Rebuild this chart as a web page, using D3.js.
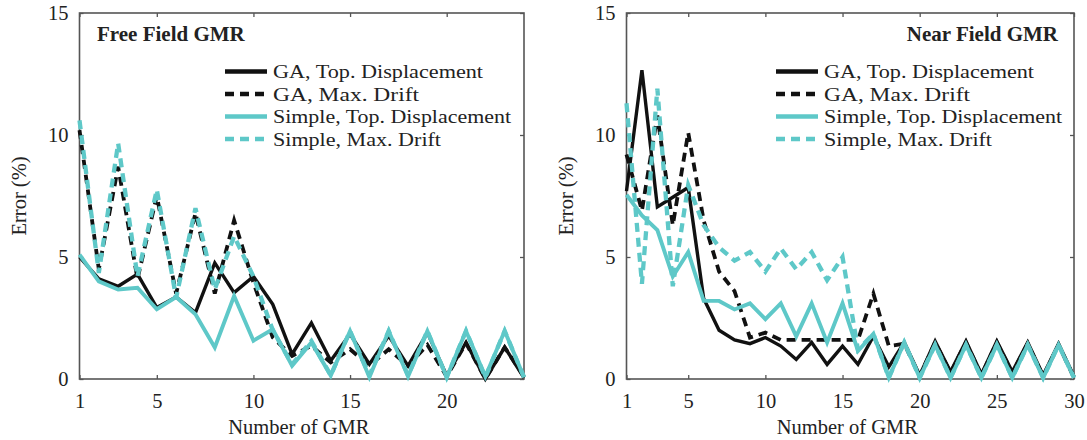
<!DOCTYPE html>
<html>
<head>
<meta charset="utf-8">
<script src="https://cdn.jsdelivr.net/npm/d3@7"></script>
<style>
  html, body { margin: 0; padding: 0; background: #fff; }
  svg { display: block; }
  text { font-family: "Liberation Serif", "Times New Roman", serif; fill: #222; }
</style>
</head>
<body>
<svg id="chart" width="1087" height="440"></svg>
<script>
// Ground-motion-record counts on the x axis
const gmrFree = [1,2,3,4,5,6,7,8,9,10,11,12,13,14,15,16,17,18,19,20,21,22,23,24];
const gmrNear = [1,2,3,4,5,6,7,8,9,10,11,12,13,14,15,16,17,18,19,20,21,22,23,24,25,26,27,28,29,30];

// Free-field errors (%)
const freeGaTop      = [5.0,4.1,3.8,4.3,2.93,3.36,2.72,4.76,3.54,4.2,3.06,1.02,2.3,0.75,1.84,0.61,1.77,0.54,1.9,0.14,1.5,0.0,1.3,0.05];
const freeGaDrift    = [10.2,4.5,8.7,4.1,7.5,3.5,6.8,3.5,6.5,3.95,1.7,0.95,1.36,0.68,1.22,0.54,1.22,0.54,1.4,0.1,1.47,0.0,1.3,0.1];
const freeSimpleTop  = [5.1,4.0,3.67,3.74,2.86,3.36,2.65,1.29,3.4,1.57,2.04,0.54,1.5,0.14,1.97,0.07,1.97,0.1,1.97,0.07,1.97,0.1,1.97,0.07];
const freeSimpleDrift= [10.6,4.35,9.66,4.2,7.76,3.33,7.0,3.67,5.85,4.2,2.0,0.6,1.56,0.15,1.97,0.15,1.97,0.15,1.97,0.07,1.97,0.07,1.97,0.07];

// Near-field errors (%)
const nearGaTop      = [7.7,12.66,7.05,7.45,7.85,3.3,2.0,1.6,1.45,1.7,1.35,0.8,1.5,0.6,1.35,0.6,1.75,0.5,1.5,0.15,1.55,0.3,1.55,0.2,1.55,0.3,1.5,0.15,1.45,0.1];
const nearGaDrift    = [9.2,6.9,10.8,6.3,10.1,6.5,4.4,3.6,1.7,1.9,1.6,1.6,1.6,1.6,1.6,1.6,3.5,1.35,1.45,0.1,1.5,0.25,1.5,0.15,1.5,0.25,1.45,0.1,1.4,0.05];
const nearSimpleTop  = [7.55,6.7,6.1,4.2,5.2,3.2,3.2,2.85,3.1,2.45,3.1,1.75,3.1,1.5,3.1,1.15,1.85,0.05,1.5,0.05,1.4,0.05,1.4,0.05,1.4,0.05,1.4,0.05,1.4,0.05];
const nearSimpleDrift= [11.3,3.9,11.9,3.8,7.95,6.3,5.4,4.85,5.2,4.4,5.35,4.5,5.2,4.05,5.0,1.2,1.85,0.05,1.5,0.05,1.4,0.05,1.4,0.05,1.4,0.05,1.4,0.05,1.4,0.05];

// Axis ticks
const xTicksFree = [1,5,10,15,20];
const xTicksNear = [1,5,10,15,20,25,30];
const yTicks = [0,5,10,15];

// Legend entries
const seriesNames = ["GA, Top. Displacement","GA, Max. Drift","Simple, Top. Displacement","Simple, Max. Drift"];

const BLACK = "#111";
const TEAL = "#5ec8c8";
const styles = [
  {color: BLACK, width: 3.4, dash: null},
  {color: BLACK, width: 3.8, dash: "9,6"},
  {color: TEAL,  width: 3.9, dash: null},
  {color: TEAL,  width: 4.3, dash: "9,6"}
];

const svg = d3.select("#chart");

function drawPanel(p) {
  const x = d3.scaleLinear().domain([p.xs[0], p.xs[p.xs.length - 1]]).range([p.left, p.right]);
  const y = d3.scaleLinear().domain([0, 15]).range([p.bottom, p.top]);
  const g = svg.append("g");

  // axes with inward ticks
  const bottom = g.append("g").attr("transform", `translate(0,${p.bottom})`)
    .call(d3.axisBottom(x).tickValues(p.xTicks).tickSizeInner(-4).tickSizeOuter(0).tickPadding(14).tickFormat(d3.format("d")));
  const left = g.append("g").attr("transform", `translate(${p.left},0)`)
    .call(d3.axisLeft(y).tickValues(yTicks).tickSizeInner(-4).tickSizeOuter(0).tickPadding(11).tickFormat(d3.format("d")));
  const top = g.append("g").attr("transform", `translate(0,${p.top})`)
    .call(d3.axisTop(x).tickValues(p.xTicks).tickSizeInner(-4).tickSizeOuter(0).tickFormat(""));
  const right = g.append("g").attr("transform", `translate(${p.right},0)`)
    .call(d3.axisRight(y).tickValues(yTicks).tickSizeInner(-4).tickSizeOuter(0).tickFormat(""));
  [bottom, left, top, right].forEach(a => {
    a.select(".domain").remove();
    a.selectAll(".tick line").attr("stroke", "#555").attr("stroke-width", 1.3);
    a.selectAll(".tick text").style("font-size", "20.5px").attr("fill", "#222")
      .style("font-family", '"Liberation Serif", serif');
  });
  bottom.selectAll(".tick text").attr("dy", "0.71em");

  // box
  g.append("rect").attr("x", p.left).attr("y", p.top)
    .attr("width", p.right - p.left).attr("height", p.bottom - p.top)
    .attr("fill", "none").attr("stroke", "#555").attr("stroke-width", 1.6);

  // series lines
  const line = d3.line().x((d, i) => x(p.xs[i])).y(d => y(d));
  p.series.forEach((vals, k) => {
    const s = styles[k];
    g.append("path").datum(vals)
      .attr("d", line)
      .attr("fill", "none")
      .attr("stroke", s.color)
      .attr("stroke-width", s.width)
      .attr("stroke-linejoin", "miter")
      .attr("stroke-dasharray", s.dash);
  });

  // title
  g.append("text").attr("x", p.titleX).attr("y", 41)
    .attr("text-anchor", p.titleAnchor)
    .style("font-size", "21px").style("font-weight", "bold")
    .text(p.title);

  // legend
  const lg = g.append("g");
  seriesNames.forEach((name, k) => {
    const s = styles[k];
    const yy = 71.5 + k * 22.5;
    lg.append("line").attr("x1", p.legendX).attr("x2", p.legendX + 42)
      .attr("y1", yy).attr("y2", yy)
      .attr("stroke", s.color).attr("stroke-width", 4.5)
      .attr("stroke-dasharray", s.dash ? "9,6" : null);
    lg.append("text").attr("x", p.legendX + 48).attr("y", yy)
      .attr("dy", "0.35em").style("font-size", "19.5px")
      .attr("textLength", p.legendWidths[k]).attr("lengthAdjust", "spacingAndGlyphs")
      .text(name);
  });

  // axis labels
  g.append("text").attr("x", (p.left + p.right) / 2 - 3).attr("y", 434)
    .attr("text-anchor", "middle").style("font-size", "20.5px").text("Number of GMR");
  g.append("text")
    .attr("transform", `translate(${p.left - 61},${(p.top + p.bottom) / 2}) rotate(-90)`)
    .attr("text-anchor", "middle").attr("dy", "0.35em")
    .style("font-size", "20.5px").text("Error (%)");
}

// rendered widths of the legend labels
const legendWidths = [210, 146, 238, 168];

drawPanel({
  xs: gmrFree, xTicks: xTicksFree,
  left: 79.5, right: 524, top: 13, bottom: 379,
  series: [freeGaTop, freeGaDrift, freeSimpleTop, freeSimpleDrift],
  title: "Free Field GMR", titleX: 97, titleAnchor: "start",
  legendX: 225, legendWidths
});

drawPanel({
  xs: gmrNear, xTicks: xTicksNear,
  left: 626.5, right: 1074, top: 13, bottom: 379,
  series: [nearGaTop, nearGaDrift, nearSimpleTop, nearSimpleDrift],
  title: "Near Field GMR", titleX: 1058, titleAnchor: "end",
  legendX: 776, legendWidths
});
</script>
</body>
</html>
